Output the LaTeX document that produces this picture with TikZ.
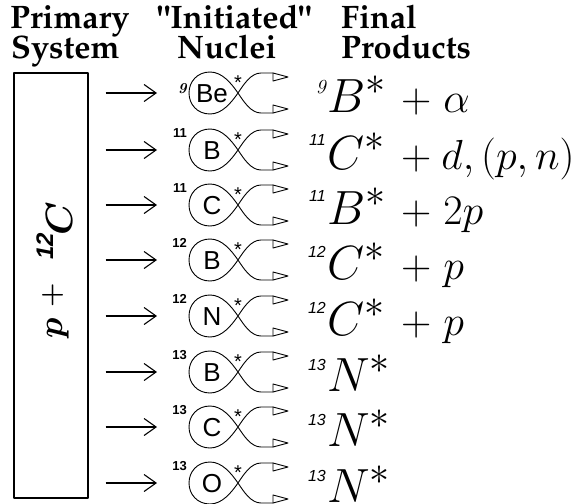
\RequirePackage{fix-cm}
\documentclass[tikz,border=0pt]{standalone}
\usepackage[T1,TU]{fontenc}
\usepackage{fontspec}
\newfontfamily\arial{Liberation Sans}
\usetikzlibrary{arrows.meta}
\newcommand\palbf{\fontencoding{T1}\fontfamily{ppl}\fontseries{b}\fontshape{n}\selectfont}
\newcommand\bigast{\mbox{\fontsize{40}{40}\selectfont$\ast$}}
\begin{document}
\begin{tikzpicture}[x=1pt,y=-1pt,line join=round]
\useasboundingbox (0,0) rectangle (588,503);
\tikzset{
 hdr/.style={anchor=base west,inner sep=0,font=\palbf\fontsize{32.5}{30}\selectfont},
 bigarrow/.style={line width=1.1pt,-{Straight Barb[length=12pt,width=17pt,line width=1.1pt]}},
 loopline/.style={line width=0.9pt},
 headtri/.style={line width=0.9pt,fill=white},
 elem/.style={font=\arial\fontsize{26}{26}\selectfont,inner sep=0},
 mass/.style={font=\bfseries\fontsize{13}{13}\selectfont,inner sep=0,anchor=base east},
 star/.style={font=\arial\fontsize{20}{20}\selectfont,inner sep=0,anchor=base},
 nucl/.style={anchor=base west,inner sep=0},
 plus/.style={anchor=base west,inner sep=0},
 prescr/.style={anchor=base east,inner sep=0},
 boxst/.style={draw,line width=1.2pt,inner sep=0,minimum width=74pt,minimum height=425pt},
 rot/.style={rotate=90,inner sep=0,anchor=base west}
}
\node[hdr] (h1a) at (10,29) {Primary};
\node[hdr] (h1b) at (11,58) {System};
\node[hdr] (h2a) at (157,29) {\textquotedbl Initiated\textquotedbl};
\node[hdr] (h2b) at (177,58) {Nuclei};
\node[hdr] (h3a) at (341,29) {Final};
\node[hdr] (h3b) at (341,58) {Products};
\node[boxst] (box) at (51,285.5) {};
\node[rot] (tp) at (62,339) {{\fontsize{34}{34}\selectfont{\boldmath$p$}}};
\node[rotate=90,inner sep=0] (tplus) at (52.5,295) {{\fontsize{28}{28}\selectfont{\boldmath$+$}}};
\node[rot] (t12) at (53,260) {{\arial\bfseries\itshape\fontsize{24}{24}\selectfont 12}};
\node[rot] (tC) at (72,236) {{\fontsize{38}{38}\selectfont{\boldmath$C$}}};
\foreach \y/\el/\m/\my/\prs/\pd/\nuc/\rest [count=\i] in {
  93/Be/{\fontsize{15}{15}\selectfont\itshape 9}/0/{\fontsize{20}{20}\selectfont\itshape 9}/0/B/{$+$\hspace{12pt}$\alpha$},
  150/B/{\arial 11}/13/{\arial\itshape\fontsize{16}{16}\selectfont 11}/-5/C/{$+$\hspace{10pt}$d,(p,n)$},
  205/C/{\arial 11}/13/{\arial\itshape\fontsize{16}{16}\selectfont 11}/-4/B/{$+$\hspace{12pt}$2p$},
  260/B/{\arial 12}/13/{\arial\itshape\fontsize{16}{16}\selectfont 12}/-3/C/{$+$\hspace{12pt}$p$},
  316/N/{\arial 12}/13/{\arial\itshape\fontsize{16}{16}\selectfont 12}/-3/C/{$+$\hspace{12pt}$p$},
  372/B/{\arial 13}/13/{\arial\itshape\fontsize{16}{16}\selectfont 13}/-2/N/{},
  427/C/{\arial 13}/13/{\arial\itshape\fontsize{16}{16}\selectfont 13}/-2/N/{},
  483/O/{\arial 13}/13/{\arial\itshape\fontsize{16}{16}\selectfont 13}/-2/N/{}} {
  \coordinate (c\i) at (238,\y);
  \path (box.east |- c\i) coordinate (a\i);
  \draw[bigarrow] ([xshift=17pt]a\i) -- ([xshift=-81pt]c\i);
  \node[elem] (e\i) at ([xshift=-26pt,yshift=-1pt]c\i) {\el};
  \node[mass] (m\i) at ([xshift=-51pt,yshift=\my pt]c\i) {\m};
  \node[star] (s\i) at ([yshift=3.5pt]c\i) {*};
  \begin{scope}[shift={(238,\y)}]
    \draw[loopline] (35,-20) -- (23,-20) .. controls (13,-20) and (6,-9) .. (0,0)
      .. controls (-7,10) and (-16,21) .. (-28,21) .. controls (-41,21) and (-49,11) .. (-49,0)
      .. controls (-49,-11) and (-41,-21) .. (-28,-21) .. controls (-16,-21) and (-7,-10) .. (0,0)
      .. controls (6,9) and (13,20) .. (23,20) -- (35,20);
    \draw[headtri] (35,-20) -- (50,-16) -- (35,-12) -- cycle;
    \draw[headtri] (35,20) -- (50,16) -- (35,12) -- cycle;
  \end{scope}
  \node[prescr] (q\i) at (326,\y+\pd) {\prs};
  \node[nucl] (n\i) at (327,\y+19) {{\fontsize{48}{48}\selectfont{$\nuc^{\bigast}$}}};
  \node[plus] (r\i) at (401,\y+19) {{\fontsize{42}{42}\selectfont{\rest}}};
}
\end{tikzpicture}
\end{document}
